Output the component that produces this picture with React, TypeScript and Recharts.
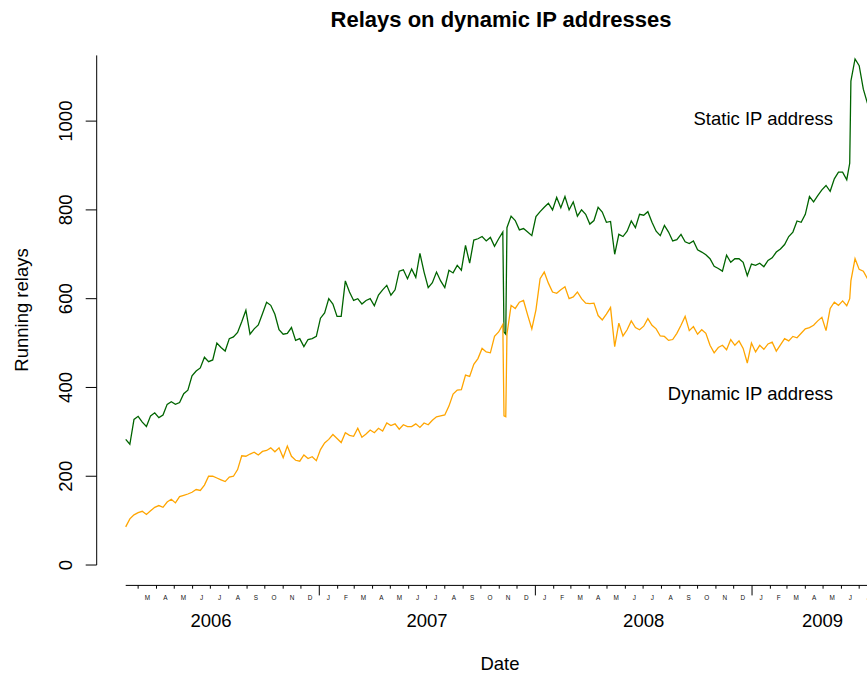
import React from 'react';
import { LineChart, Line, XAxis, YAxis, ReferenceLine } from 'recharts';

const FONT = '"Liberation Sans", Arial, Helvetica, sans-serif';

// Weekly observation dates (extra dates around the short outages)
const dates = [
  '2006-02-08','2006-02-15','2006-02-22','2006-03-01','2006-03-08','2006-03-15','2006-03-22','2006-03-29',
  '2006-04-05','2006-04-12','2006-04-19','2006-04-26','2006-05-03','2006-05-10','2006-05-17','2006-05-24','2006-05-31',
  '2006-06-07','2006-06-14','2006-06-21','2006-06-28','2006-07-05','2006-07-12','2006-07-19','2006-07-26',
  '2006-08-02','2006-08-09','2006-08-16','2006-08-23','2006-08-30','2006-09-06','2006-09-13','2006-09-20','2006-09-27',
  '2006-10-04','2006-10-11','2006-10-18','2006-10-25','2006-11-01','2006-11-08','2006-11-15','2006-11-22','2006-11-29',
  '2006-12-06','2006-12-13','2006-12-20','2006-12-27',
  '2007-01-03','2007-01-10','2007-01-17','2007-01-24','2007-01-31','2007-02-07','2007-02-14','2007-02-21','2007-02-28',
  '2007-03-07','2007-03-14','2007-03-21','2007-03-28','2007-04-04','2007-04-11','2007-04-18','2007-04-25',
  '2007-05-02','2007-05-09','2007-05-16','2007-05-23','2007-05-30','2007-06-06','2007-06-13','2007-06-20','2007-06-27',
  '2007-07-04','2007-07-11','2007-07-18','2007-07-25','2007-08-01','2007-08-08','2007-08-15','2007-08-22','2007-08-29',
  '2007-09-05','2007-09-12','2007-09-19','2007-09-26','2007-10-03','2007-10-10','2007-10-17','2007-10-24','2007-10-31',
  '2007-11-07','2007-11-09','2007-11-12','2007-11-14','2007-11-21','2007-11-28','2007-12-05','2007-12-12','2007-12-19','2007-12-26',
  '2008-01-02','2008-01-09','2008-01-16','2008-01-23','2008-01-30','2008-02-06','2008-02-13','2008-02-20','2008-02-27',
  '2008-03-05','2008-03-12','2008-03-19','2008-03-26','2008-04-02','2008-04-09','2008-04-16','2008-04-23','2008-04-30',
  '2008-05-07','2008-05-14','2008-05-21','2008-05-28','2008-06-04','2008-06-11','2008-06-18','2008-06-25',
  '2008-07-02','2008-07-09','2008-07-16','2008-07-23','2008-07-30','2008-08-06','2008-08-13','2008-08-20','2008-08-27',
  '2008-09-03','2008-09-10','2008-09-17','2008-09-24','2008-10-01','2008-10-08','2008-10-15','2008-10-22','2008-10-29',
  '2008-11-05','2008-11-12','2008-11-19','2008-11-26','2008-12-03','2008-12-10','2008-12-17','2008-12-24','2008-12-31',
  '2009-01-07','2009-01-14','2009-01-21','2009-01-28','2009-02-04','2009-02-11','2009-02-18','2009-02-25',
  '2009-03-04','2009-03-11','2009-03-18','2009-03-25','2009-04-01','2009-04-08','2009-04-15','2009-04-22','2009-04-29',
  '2009-05-06','2009-05-13','2009-05-20','2009-05-27','2009-06-03','2009-06-10','2009-06-15','2009-06-17','2009-06-24',
  '2009-07-01','2009-07-08','2009-07-15',
];

const staticIP = [
  283, 272, 328, 335, 322, 312, 336, 343, 332, 338,
  362, 368, 362, 366, 386, 394, 426, 437, 444, 468,
  458, 462, 500, 490, 482, 510, 514, 524, 548, 574,
  520, 532, 541, 566, 592, 585, 565, 530, 520, 522,
  535, 506, 510, 492, 508, 510, 515, 556, 568, 600,
  588, 560, 560, 640, 615, 596, 600, 588, 596, 600,
  584, 608, 620, 630, 608, 620, 662, 665, 645, 667,
  648, 702, 660, 625, 636, 660, 640, 625, 664, 658,
  675, 664, 720, 680, 732, 735, 740, 730, 738, 718,
  735, 750, 525, 520, 760, 786, 776, 755, 758, 750, 742, 785,
  796, 806, 815, 800, 828, 805, 830, 800, 818, 786,
  800, 790, 768, 776, 806, 795, 772, 774, 700, 745,
  740, 752, 775, 760, 790, 788, 796, 772, 752, 742,
  765, 750, 730, 733, 745, 728, 724, 730, 710, 705,
  699, 690, 673, 668, 662, 698, 682, 690, 690, 682,
  652, 678, 675, 680, 672, 686, 692, 705, 712, 722,
  740, 750, 775, 772, 790, 830, 818, 832, 845, 855,
  842, 870, 885, 885, 868, 905, 1090, 1140, 1125, 1072, 1040,
];

const dynamicIP = [
  86, 104, 113, 118, 121, 114, 122, 130, 134, 130,
  142, 148, 140, 154, 157, 160, 164, 170, 168, 180,
  200, 200, 196, 192, 188, 198, 200, 215, 246, 245,
  250, 254, 248, 256, 258, 264, 255, 264, 242, 268,
  245, 236, 234, 248, 240, 244, 235, 260, 275, 283,
  294, 285, 276, 298, 292, 290, 308, 288, 295, 304,
  298, 308, 302, 320, 314, 318, 306, 316, 312, 312,
  318, 310, 320, 316, 326, 334, 336, 338, 358, 385,
  394, 395, 428, 425, 452, 465, 488, 480, 478, 515,
  525, 542, 336, 334, 520, 585, 578, 592, 596, 563, 532, 575,
  645, 660, 635, 615, 612, 620, 627, 600, 604, 615,
  600, 590, 589, 590, 562, 552, 565, 580, 492, 545,
  516, 530, 550, 535, 530, 538, 555, 540, 532, 516,
  515, 506, 508, 522, 540, 560, 528, 537, 520, 530,
  522, 495, 478, 490, 495, 485, 508, 495, 505, 488,
  455, 500, 480, 495, 486, 498, 502, 482, 496, 510,
  505, 515, 512, 522, 532, 535, 540, 550, 558, 528,
  578, 592, 585, 595, 584, 600, 640, 690, 666, 662, 645,
];

const yTicks = [0, 200, 400, 600, 800, 1000];

const monthStarts = [
  '2006-03-01','2006-04-01','2006-05-01','2006-06-01','2006-07-01','2006-08-01','2006-09-01','2006-10-01','2006-11-01','2006-12-01',
  '2007-01-01','2007-02-01','2007-03-01','2007-04-01','2007-05-01','2007-06-01','2007-07-01','2007-08-01','2007-09-01','2007-10-01','2007-11-01','2007-12-01',
  '2008-01-01','2008-02-01','2008-03-01','2008-04-01','2008-05-01','2008-06-01','2008-07-01','2008-08-01','2008-09-01','2008-10-01','2008-11-01','2008-12-01',
  '2009-01-01','2009-02-01','2009-03-01','2009-04-01','2009-05-01','2009-06-01','2009-07-01',
];
const monthLetters = ['J', 'F', 'M', 'A', 'M', 'J', 'J', 'A', 'S', 'O', 'N', 'D'];

const yearLabels = ['2006', '2007', '2008', '2009'];
const yearLabelDates = ['2006-07-02', '2007-07-02', '2008-07-02', '2009-04-30'];

const ORIGIN = Date.parse('2006-01-01');
const DAY = 86400000;
const dayOf = (s: string) => (Date.parse(s) - ORIGIN) / DAY;

const rows = dates.map((d, i) => ({ t: dayOf(d), s: staticIP[i], dyn: dynamicIP[i] }));

// tick tables derived from the lists above
const isJanuary = new Map<number, boolean>(monthStarts.map((m) => [dayOf(m), m.slice(5, 7) === '01']));
const monthMidLabel = new Map<number, string>(
  monthStarts.map((m) => {
    const y = +m.slice(0, 4);
    const mo = +m.slice(5, 7) - 1;
    const next = (Date.UTC(y, mo + 1, 1) - ORIGIN) / DAY;
    return [(dayOf(m) + next) / 2, monthLetters[mo]];
  })
);
const yearLabelMap = new Map<number, string>(yearLabelDates.map((d, i) => [dayOf(d), yearLabels[i]]));
const allXTicks = [...isJanuary.keys(), ...monthMidLabel.keys(), ...yearLabelMap.keys()].sort((a, b) => a - b);

const X_DOMAIN: [number, number] = [-11, 1290.2];
const Y_DOMAIN: [number, number] = [-45.9, 1194];

const XTick = (props: any) => {
  const { x, y, payload } = props;
  const v = payload.value;
  if (isJanuary.has(v)) {
    const jan = isJanuary.get(v);
    return <line x1={x} x2={x} y1={y} y2={y + (jan ? 10 : 3.3)} stroke="#000" strokeWidth={1} />;
  }
  if (monthMidLabel.has(v)) {
    return (
      <text x={x} y={y + 14.5} textAnchor="middle" fontSize={6.4} fill="#111" fontFamily={FONT}>
        {monthMidLabel.get(v)}
      </text>
    );
  }
  if (yearLabelMap.has(v)) {
    return (
      <text x={x} y={y + 41.2} textAnchor="middle" fontSize={18.5} fill="#000" fontFamily={FONT}>
        {yearLabelMap.get(v)}
      </text>
    );
  }
  return <g />;
};

const YTick = (props: any) => {
  const { x, y, payload } = props;
  const tx = x - 14;
  return (
    <text x={tx} y={y} transform={`rotate(-90 ${tx} ${y})`} textAnchor="middle" fontSize={18.5} fill="#000" fontFamily={FONT}>
      {payload.value}
    </text>
  );
};

export default function App() {
  return (
    <div style={{ position: 'absolute', left: 0, top: 0, width: 867, height: 675, overflow: 'hidden', background: '#fff', fontFamily: FONT }}>
      <LineChart width={867} height={675} data={rows} margin={{ top: 35, right: 0, bottom: 0, left: 0 }}>
        <XAxis xAxisId="main" dataKey="t" type="number" domain={X_DOMAIN} allowDataOverflow ticks={allXTicks}
          interval={0} tick={<XTick />} tickLine={false} axisLine={false} tickSize={0} tickMargin={0} height={89.6} />
        <YAxis type="number" domain={Y_DOMAIN} allowDataOverflow ticks={yTicks} interval={0} width={96.7}
          axisLine={false} tickLine={{ stroke: '#000', strokeWidth: 1 }} stroke="#000" tickSize={11} tickMargin={0} tick={<YTick />} />
        <ReferenceLine xAxisId="main" segment={[{ x: X_DOMAIN[0], y: 0 }, { x: X_DOMAIN[0], y: 1148 }]} stroke="#000" strokeWidth={1} ifOverflow="visible" />
        <ReferenceLine xAxisId="main" segment={[{ x: rows[0].t, y: Y_DOMAIN[0] }, { x: X_DOMAIN[1], y: Y_DOMAIN[0] }]} stroke="#000" strokeWidth={1} ifOverflow="visible" />
        <Line xAxisId="main" type="linear" dataKey="s" stroke="#006400" strokeWidth={1.3} dot={false} isAnimationActive={false} />
        <Line xAxisId="main" type="linear" dataKey="dyn" stroke="#FFA500" strokeWidth={1.3} dot={false} isAnimationActive={false} />
      </LineChart>
      <svg width={867} height={675} style={{ position: 'absolute', left: 0, top: 0, pointerEvents: 'none' }} fontFamily={FONT}>
        <text x={501} y={27} textAnchor="middle" fontSize={22} fontWeight="bold" fill="#000">Relays on dynamic IP addresses</text>
        <text x={28} y={310} transform="rotate(-90 28 310)" textAnchor="middle" fontSize={18.5} fill="#000">Running relays</text>
        <text x={500} y={669.5} textAnchor="middle" fontSize={18.5} fill="#000">Date</text>
        <text x={833} y={125} textAnchor="end" fontSize={18.5} fill="#000">Static IP address</text>
        <text x={833} y={400} textAnchor="end" fontSize={18.5} fill="#000">Dynamic IP address</text>
      </svg>
    </div>
  );
}
